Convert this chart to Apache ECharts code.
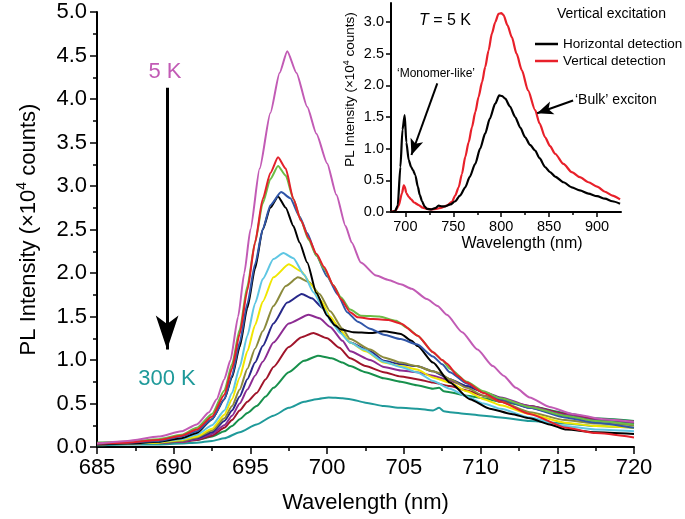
<!DOCTYPE html>
<html><head><meta charset="utf-8">
<script src="https://cdn.jsdelivr.net/npm/echarts@6/dist/echarts.min.js"></script>
<style>html,body{margin:0;padding:0;background:#fff}#c{width:685px;height:519px}</style>
</head><body><div id="c"></div>
<script>
const FONT = '"Liberation Sans", Arial, Helvetica, sans-serif';

// ---- Main plot: PL spectra, 5 K (top) to 300 K (bottom) ----
const k5 = [[685,0.04],[687,0.07],[689,0.12],[690.5,0.18],[691.5,0.26],[692.3,0.4],[692.8,0.55],[693.3,0.78],[693.7,1.0],[694.2,1.5],[694.6,2.0],[695,2.5],[695.6,3.2],[696.3,3.84],[696.9,4.3],[697.4,4.55],[698,4.3],[698.7,3.91],[699.3,3.6],[700,3.26],[700.6,2.9],[701.2,2.54],[701.6,2.35],[702.2,2.12],[703.2,1.97],[704,1.92],[704.8,1.87],[705.5,1.82],[706.5,1.70],[707.2,1.62],[707.8,1.52],[708.8,1.32],[709.8,1.12],[710.8,0.93],[711.5,0.82],[712.3,0.68],[713.2,0.57],[714.5,0.46],[716,0.38],[718,0.32],[720,0.29]];
const sRed = [[685,0.04],[687,0.05],[689,0.08],[690.5,0.13],[691.5,0.2],[692.5,0.35],[693.3,0.6],[693.8,0.9],[694.3,1.3],[694.8,1.8],[695.3,2.35],[695.8,2.85],[696.3,3.15],[696.8,3.33],[697.3,3.2],[697.8,2.85],[698.3,2.6],[698.8,2.4],[699.3,2.22],[699.8,2.07],[700.4,1.86],[700.9,1.7],[701.5,1.55],[702,1.49],[703,1.47],[704,1.46],[704.8,1.42],[705.9,1.28],[706.9,1.09],[707.5,1.0],[707.8,0.96],[708.5,0.82],[709.1,0.74],[710.2,0.62],[711.3,0.52],[713.2,0.38],[715.6,0.22],[717.5,0.16],[720,0.11]];
const sLightGreen = [[685,0.05],[687,0.06],[689,0.09],[690.5,0.14],[691.5,0.22],[692.5,0.38],[693.3,0.65],[693.8,0.95],[694.3,1.35],[694.8,1.85],[695.3,2.35],[695.8,2.8],[696.3,3.08],[696.8,3.23],[697.3,3.12],[697.8,2.85],[698.3,2.6],[698.8,2.38],[699.3,2.2],[699.8,2.05],[700.4,1.86],[700.9,1.72],[701.5,1.58],[702.2,1.51],[703.4,1.50],[704.5,1.45],[705.2,1.37],[705.9,1.28],[706.9,1.09],[707.5,1.0],[708,0.9],[709.1,0.75],[710.2,0.64],[711.3,0.56],[713.2,0.46],[715.5,0.36],[717.5,0.3],[720,0.26]];
const sBlue = [[685,0.04],[687,0.05],[689,0.07],[690.5,0.12],[691.5,0.18],[692.5,0.32],[693.3,0.55],[693.8,0.82],[694.3,1.2],[694.8,1.65],[695.3,2.1],[695.8,2.5],[696.3,2.78],[697,2.93],[697.6,2.86],[698.2,2.65],[698.7,2.46],[699.3,2.2],[700,1.96],[700.7,1.75],[701.3,1.55],[702,1.44],[702.8,1.36],[703.7,1.29],[704.8,1.24],[705.85,1.18],[706.9,1.04],[707.5,0.95],[708,0.86],[709.1,0.73],[710.2,0.63],[711.3,0.55],[713.2,0.45],[715.5,0.34],[717.5,0.28],[720,0.22]];
const sBlack = [[685,0.03],[687,0.04],[689,0.06],[690.5,0.1],[691.5,0.16],[692.5,0.32],[693.3,0.55],[693.8,0.8],[694.3,1.15],[694.8,1.6],[695.3,2.05],[695.8,2.5],[696.3,2.75],[696.8,2.88],[697.3,2.75],[697.8,2.54],[698.2,2.35],[698.7,2.12],[699.3,1.77],[700,1.51],[700.5,1.4],[700.9,1.35],[701.7,1.32],[702.8,1.31],[703.7,1.33],[704.8,1.30],[705.5,1.22],[705.9,1.16],[706.9,0.97],[708,0.74],[709.3,0.55],[710.6,0.44],[712,0.38],[713.2,0.33],[714.5,0.26],[715.6,0.2],[717.5,0.17],[720,0.15]];
const sSky = [[685,0.03],[687,0.04],[689,0.06],[690.5,0.09],[691.5,0.14],[692.5,0.25],[693.3,0.42],[693.8,0.62],[694.3,0.92],[694.8,1.28],[695.3,1.65],[695.8,1.93],[696.5,2.16],[697.15,2.23],[697.8,2.17],[698.5,1.98],[699.1,1.78],[699.8,1.58],[700.3,1.43],[700.85,1.31],[701.5,1.2],[702.4,1.12],[703.7,0.98],[704.8,0.92],[705.85,0.86],[706.9,0.76],[708,0.67],[709.1,0.58],[710.2,0.50],[711.3,0.44],[713.2,0.34],[715.5,0.24],[717.5,0.2],[720,0.18]];
const sYellow = [[685,0.03],[687,0.04],[689,0.05],[690.5,0.08],[691.5,0.12],[692.5,0.21],[693.3,0.37],[693.8,0.55],[694.3,0.8],[694.8,1.1],[695.3,1.4],[695.8,1.67],[696.5,1.95],[697.5,2.1],[698.3,2.02],[699,1.86],[699.6,1.68],[700.2,1.5],[700.8,1.36],[701.5,1.2],[702.5,1.1],[703.7,0.97],[704.8,0.93],[705.85,0.89],[706.9,0.8],[708,0.74],[709.1,0.64],[710.2,0.55],[711.3,0.48],[713.2,0.38],[715.5,0.28],[717.5,0.24],[720,0.22]];
const sOlive = [[685,0.03],[687,0.04],[689,0.05],[690.5,0.07],[691.5,0.11],[692.5,0.19],[693.3,0.33],[693.8,0.47],[694.3,0.66],[694.8,0.9],[695.3,1.13],[695.8,1.33],[696.5,1.62],[697.3,1.85],[698.1,1.95],[698.8,1.9],[699.5,1.76],[700.2,1.56],[701,1.36],[701.5,1.24],[702.8,1.12],[703.7,1.03],[704.8,0.97],[705.85,0.93],[706.9,0.87],[707.3,0.85],[708,0.78],[709.1,0.68],[710.2,0.59],[711.3,0.52],[713.2,0.40],[715.5,0.31],[717.5,0.27],[720,0.25]];
const sNavy = [[685,0.03],[687,0.04],[689,0.05],[690.5,0.07],[691.5,0.1],[692.5,0.17],[693.3,0.3],[693.8,0.42],[694.3,0.58],[694.8,0.78],[695.3,0.97],[695.8,1.16],[696.5,1.42],[697.4,1.66],[698.35,1.76],[699,1.71],[699.7,1.6],[700.4,1.44],[701,1.3],[701.5,1.2],[702.8,1.1],[703.7,0.99],[704.8,0.95],[705.85,0.93],[706.9,0.87],[708,0.78],[709.1,0.7],[710.2,0.63],[711.3,0.56],[713.2,0.45],[715.5,0.36],[717.5,0.3],[720,0.26]];
const sPurple = [[685,0.03],[687,0.04],[689,0.05],[690.5,0.06],[691.5,0.09],[692.5,0.15],[693.3,0.25],[693.8,0.36],[694.3,0.5],[694.8,0.66],[695.3,0.82],[695.8,0.98],[696.5,1.2],[697.5,1.42],[698.8,1.52],[699.5,1.48],[700.2,1.38],[701,1.22],[701.5,1.1],[702.8,1.0],[703.7,0.92],[704.8,0.88],[705.85,0.86],[706.9,0.82],[708,0.76],[709.1,0.7],[710.2,0.63],[711.3,0.57],[713.2,0.47],[715.5,0.37],[717.5,0.31],[720,0.27]];
const sDarkRed = [[685,0.03],[687,0.04],[689,0.05],[690.5,0.06],[691.5,0.08],[692.5,0.13],[693.3,0.22],[693.8,0.31],[694.3,0.42],[694.8,0.52],[695.4,0.62],[696,0.78],[696.5,0.92],[697.5,1.15],[698.3,1.26],[699.1,1.31],[700,1.25],[700.8,1.14],[701.5,1.02],[702.5,0.93],[703.7,0.86],[704.8,0.81],[705.85,0.78],[706.9,0.74],[708,0.70],[709.1,0.65],[710.2,0.59],[711.3,0.54],[713.2,0.47],[715.5,0.38],[717.5,0.32],[720,0.29]];
const sDarkGreen = [[685,0.05],[687,0.05],[689,0.06],[690.5,0.07],[691.5,0.08],[692.5,0.12],[693.3,0.18],[693.8,0.24],[694.3,0.32],[694.8,0.39],[695.4,0.47],[696,0.58],[696.5,0.68],[697.5,0.86],[698.5,0.99],[699.4,1.05],[700.3,1.02],[701,0.97],[701.5,0.93],[702.5,0.86],[703.7,0.79],[704.8,0.75],[705.85,0.71],[706.9,0.67],[707.3,0.68],[707.6,0.64],[708,0.63],[709.1,0.59],[710.2,0.56],[711.3,0.52],[713.2,0.47],[715.5,0.39],[717.5,0.33],[720,0.30]];
const k300 = [[685,0.02],[687,0.03],[689,0.03],[690.5,0.04],[691.5,0.05],[692.5,0.07],[693.3,0.1],[694.3,0.17],[695.4,0.26],[696.5,0.36],[697.5,0.45],[698.5,0.52],[699.3,0.55],[700.1,0.57],[701,0.56],[701.5,0.55],[702.5,0.51],[703.7,0.47],[704.8,0.45],[705.85,0.44],[706.9,0.42],[707.3,0.45],[707.6,0.41],[708,0.40],[709.1,0.38],[710.2,0.36],[711.3,0.34],[713.2,0.30],[715.5,0.27],[717.5,0.24],[720,0.22]];

// ---- Inset: T = 5 K, vertical excitation ----
const insetHoriz = [[685,0],[689,0.01],[692,0.1],[694.8,0.71],[697,1.3],[699.3,1.53],[701,1.1],[703.5,0.82],[706,0.71],[708,0.66],[710.4,0.58],[713,0.4],[715,0.27],[717.4,0.17],[720,0.09],[722.6,0.05],[727,0.04],[731,0.06],[734.7,0.1],[738,0.09],[741.7,0.09],[747,0.12],[752,0.17],[757,0.26],[762.5,0.39],[767,0.55],[772.9,0.76],[778,1.0],[783.3,1.24],[788,1.47],[793.75,1.71],[797.9,1.84],[801,1.83],[804.2,1.79],[809,1.67],[814.6,1.50],[820,1.33],[825,1.18],[830,1.06],[835.4,0.97],[840,0.85],[845.8,0.71],[851,0.63],[856.25,0.56],[865,0.47],[873.6,0.39],[882,0.34],[891,0.29],[900,0.25],[908.3,0.21],[916,0.17],[924,0.13]];
const insetVert = [[685,0],[689.6,0.02],[693,0.1],[696.5,0.3],[698.3,0.42],[699.3,0.4],[701,0.3],[703.5,0.24],[706,0.2],[709,0.15],[713.9,0.11],[718,0.07],[722.6,0.05],[727,0.04],[732,0.05],[738.2,0.07],[743,0.1],[748.6,0.16],[752,0.26],[755.6,0.39],[759,0.6],[762.5,0.87],[766,1.1],[769.5,1.34],[773,1.58],[776.4,1.82],[780,2.05],[783.3,2.29],[786.8,2.55],[790.3,2.82],[793.8,3.0],[797.2,3.13],[800,3.14],[802.4,3.11],[806.5,2.95],[811.1,2.76],[816,2.5],[821.5,2.24],[828,1.92],[835.4,1.61],[840,1.4],[845.8,1.18],[851,1.04],[856.25,0.92],[865,0.76],[873.6,0.63],[882,0.55],[891,0.47],[900,0.40],[908.3,0.32],[916,0.26],[924,0.2]];

// tick labels
const insetXLabels = [700, 750, 800, 850, 900];
const insetXMinor = [725, 775, 825, 875];
const insetYLabels = [0, 0.5, 1.0, 1.5, 2.0, 2.5, 3.0];

// annotation arrows (data coordinates: tail, tip)
const tempArrow = [[689.57, 4.13], [689.57, 1.12]];
const monomerArrow = [[733.3, 2.03], [706.3, 0.90]];
const bulkArrow = [[875, 1.76], [837.5, 1.56]];

const mainSeries = [
  {name:'300 K', data:k300, color:'#1f9a9a'},
  {name:'s12', data:sDarkGreen, color:'#17904c'},
  {name:'s11', data:sDarkRed, color:'#a0142a'},
  {name:'s10', data:sPurple, color:'#8c2b92'},
  {name:'s9', data:sNavy, color:'#27288a'},
  {name:'s8', data:sOlive, color:'#8b8a3c'},
  {name:'s7', data:sYellow, color:'#f0e600'},
  {name:'s6', data:sSky, color:'#5ec6e3'},
  {name:'s5', data:sBlack, color:'#000000'},
  {name:'s4', data:sBlue, color:'#3056a8'},
  {name:'s3', data:sLightGreen, color:'#6cbd45'},
  {name:'s2', data:sRed, color:'#e3202a'},
  {name:'5 K', data:k5, color:'#c25bb5'}
];

const chart = echarts.init(document.getElementById('c'), null, {renderer:'canvas'});

const axisCommon = {
  axisLine:{show:true, lineStyle:{color:'#000', width:2}},
  splitLine:{show:false},
  nameTextStyle:{color:'#000', fontFamily:FONT},
};

const series = mainSeries.map(s => ({
  type:'line', name:s.name, xAxisIndex:0, yAxisIndex:0, data:s.data,
  showSymbol:false, symbol:'none', smooth:0.2, smoothMonotone:'x',
  lineStyle:{color:s.color, width:2}, itemStyle:{color:s.color},
  emphasis:{disabled:true}, silent:true, z:2
}));
series[series.length-1].markLine = {
  silent:true, symbol:['none','arrow'], symbolSize:[17,34],
  lineStyle:{color:'#000', width:3, type:'solid'}, label:{show:false},
  emphasis:{disabled:true}, animation:false,
  data:[[{coord:tempArrow[0]},{coord:tempArrow[1]}]]
};
series.push({
  type:'line', name:'Vertical detection', xAxisIndex:1, yAxisIndex:1, data:insetVert,
  showSymbol:false, symbol:'none', smooth:0.25, smoothMonotone:'x',
  lineStyle:{color:'#e8202a', width:2.2}, itemStyle:{color:'#e8202a'}, silent:true
});
series.push({
  type:'line', name:'Horizontal detection', xAxisIndex:1, yAxisIndex:1, data:insetHoriz,
  showSymbol:false, symbol:'none', smooth:0.25, smoothMonotone:'x',
  lineStyle:{color:'#000', width:2.2}, itemStyle:{color:'#000'}, silent:true,
  markLine:{
    silent:true, symbol:['none','arrow'], symbolSize:[10,16],
    lineStyle:{color:'#000', width:2, type:'solid'}, label:{show:false},
    emphasis:{disabled:true}, animation:false,
    data:[[{coord:monomerArrow[0]},{coord:monomerArrow[1]}],[{coord:bulkArrow[0]},{coord:bulkArrow[1]}]]
  }
});

const option = {
  animation:false,
  backgroundColor:'#fff',
  textStyle:{fontFamily:FONT},
  grid:[
    {left:97, top:12, width:537, height:436, containLabel:false},
    {left:391, top:3, width:230, height:209, containLabel:false}
  ],
  legend:{
    data:['Horizontal detection','Vertical detection'], left:530, top:31, orient:'vertical',
    itemWidth:23, itemHeight:2.5, itemGap:1, icon:'rect', selectedMode:false,
    textStyle:{fontSize:13.5, color:'#000', fontFamily:FONT, lineHeight:16}
  },
  xAxis:[
    Object.assign({}, axisCommon, {
      type:'value', gridIndex:0, min:685, max:720, interval:5, position:'bottom',
      axisTick:{show:true, length:7, lineStyle:{color:'#000', width:1.5}},
      minorTick:{show:true, splitNumber:2, length:4, lineStyle:{color:'#000', width:1.5}},
      axisLabel:{fontSize:22, color:'#000', margin:10, fontFamily:FONT},
      name:'Wavelength (nm)', nameLocation:'middle', nameGap:45,
      nameTextStyle:{fontSize:22, color:'#000', fontFamily:FONT}
    }),
    Object.assign({}, axisCommon, {
      type:'value', gridIndex:1, min:685, max:925, position:'bottom',
      axisTick:{show:true, length:5, customValues:insetXLabels, lineStyle:{color:'#000', width:1.5}},
      axisLabel:{fontSize:14.5, color:'#000', margin:7, fontFamily:FONT, customValues:insetXLabels},
      name:'Wavelength (nm)', nameLocation:'middle', nameGap:24,
      nameTextStyle:{fontSize:16, color:'#000', fontFamily:FONT, padding:[0,0,0,32]}
    }),
    {
      type:'value', gridIndex:1, min:685, max:925, position:'bottom', offset:0,
      axisLine:{show:false}, splitLine:{show:false}, axisLabel:{show:false},
      axisTick:{show:true, length:3, customValues:insetXMinor, lineStyle:{color:'#000', width:1.5}}
    }
  ],
  yAxis:[
    Object.assign({}, axisCommon, {
      type:'value', gridIndex:0, min:0, max:5, interval:0.5, position:'left',
      axisTick:{show:true, length:7, lineStyle:{color:'#000', width:1.5}},
      minorTick:{show:true, splitNumber:2, length:4, lineStyle:{color:'#000', width:1.5}},
      axisLabel:{fontSize:22, color:'#000', margin:10, fontFamily:FONT, formatter:v=>v.toFixed(1)},
      name:'{a|PL Intensity (×10}{b|4}{a| counts)}', nameLocation:'middle', nameGap:54,
      nameTextStyle:{color:'#000', fontFamily:FONT, rich:{
        a:{fontSize:22, lineHeight:28, fontFamily:FONT, color:'#000'},
        b:{fontSize:14, lineHeight:14, verticalAlign:'top', fontFamily:FONT, color:'#000'}
      }}
    }),
    Object.assign({}, axisCommon, {
      type:'value', gridIndex:1, min:0, max:3.3, position:'left',
      axisTick:{show:true, length:5, customValues:insetYLabels, lineStyle:{color:'#000', width:1.5}},
      axisLabel:{fontSize:14.5, color:'#000', margin:7, fontFamily:FONT, customValues:insetYLabels, formatter:v=>v.toFixed(1)},
      name:'{a|PL Intensity (×10}{b|4}{a| counts)}', nameLocation:'middle', nameGap:32,
      nameTextStyle:{color:'#000', fontFamily:FONT, padding:[0,0,0,36], rich:{
        a:{fontSize:13.5, lineHeight:17, fontFamily:FONT, color:'#000'},
        b:{fontSize:9, lineHeight:9, verticalAlign:'top', fontFamily:FONT, color:'#000'}
      }}
    })
  ],
  graphic:[
    {type:'text', x:165, y:72, silent:true, style:{text:'5 K', fill:'#c25bb5', font:'22px '+FONT, align:'center', verticalAlign:'middle', textAlign:'center', textVerticalAlign:'middle'}},
    {type:'text', x:167, y:379, silent:true, style:{text:'300 K', fill:'#1f9a9a', font:'22px '+FONT, align:'center', verticalAlign:'middle', textAlign:'center', textVerticalAlign:'middle'}},
    {type:'text', x:419, y:21, silent:true, style:{text:'{i|T} = 5 K', fill:'#000', font:'16px '+FONT, verticalAlign:'middle', textVerticalAlign:'middle', rich:{i:{fontStyle:'italic', fontSize:16, fontFamily:FONT}}}},
    {type:'text', x:557, y:14, silent:true, style:{text:'Vertical excitation', fill:'#000', font:'14px '+FONT, verticalAlign:'middle', textVerticalAlign:'middle'}},
    {type:'text', x:436, y:74, silent:true, style:{text:'\u2018Monomer-like\u2019', fill:'#000', font:'12px '+FONT, align:'center', verticalAlign:'middle', textAlign:'center', textVerticalAlign:'middle'}},
    {type:'text', x:575, y:100, silent:true, style:{text:'\u2018Bulk\u2019 exciton', fill:'#000', font:'14px '+FONT, verticalAlign:'middle', textVerticalAlign:'middle'}}
  ],
  series: series
};
chart.setOption(option);
</script>
</body></html>
